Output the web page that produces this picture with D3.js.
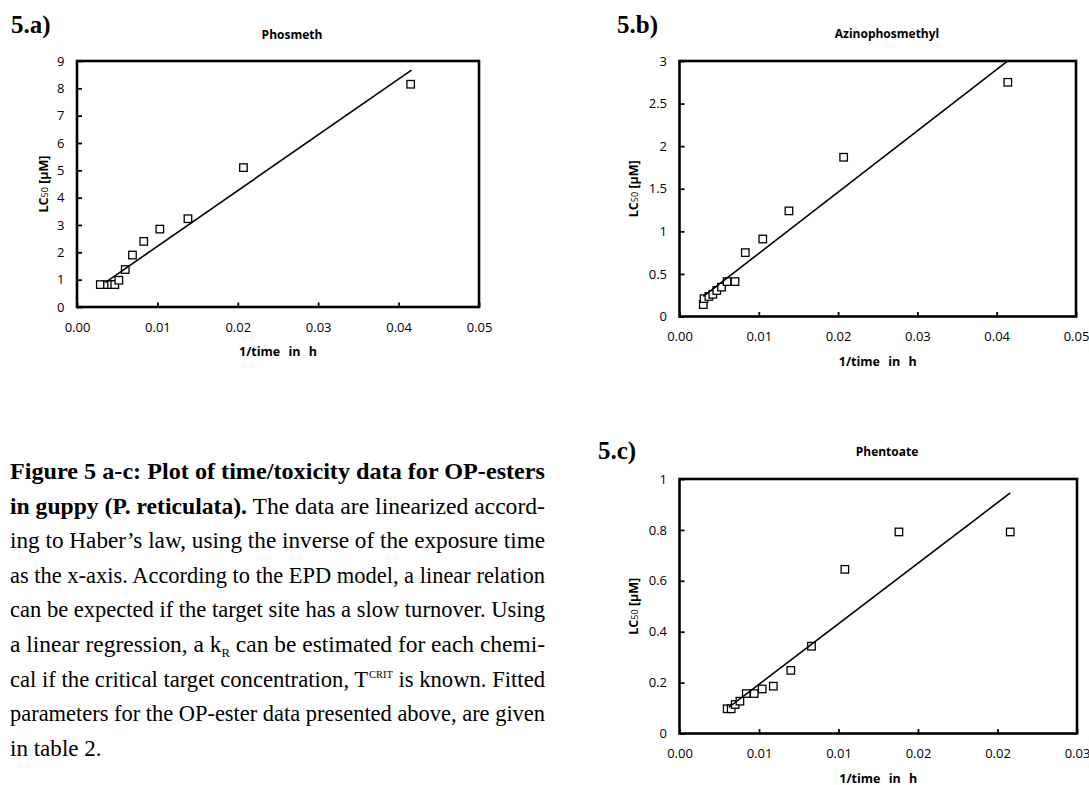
<!DOCTYPE html>
<html>
<head>
<meta charset="utf-8">
<script src="https://cdn.jsdelivr.net/npm/d3@7"></script>
<style>
  body { margin: 0; background: #fff; }
  svg text { fill: #000; }
</style>
</head>
<body>
<svg id="fig" width="1089" height="785"></svg>
<script>
// ---- 5.a) Phosmeth: 1/time (h^-1) vs LC50 (µM)
const phosmethX = [0.0029, 0.0038, 0.0043, 0.0047, 0.0052, 0.0060, 0.0069, 0.0083, 0.0103, 0.0138, 0.0207, 0.0415];
const phosmethY = [0.82, 0.82, 0.82, 0.82, 0.98, 1.37, 1.90, 2.40, 2.85, 3.23, 5.10, 8.15];
const phosmethFit = [204, 0.18];            // slope, intercept
const phosmethFitRange = [0.0035, 0.0416];
const phosmethXTicks = [0, 0.01, 0.02, 0.03, 0.04, 0.05];
const phosmethXTickLabels = ["0.00", "0.01", "0.02", "0.03", "0.04", "0.05"];
const phosmethYTicks = [0, 1, 2, 3, 4, 5, 6, 7, 8, 9];
const phosmethYTickLabels = ["0", "1", "2", "3", "4", "5", "6", "7", "8", "9"];

// ---- 5.b) Azinophosmethyl
const azinX = [0.0030, 0.0031, 0.0037, 0.0042, 0.0047, 0.0053, 0.0060, 0.0070, 0.0083, 0.0105, 0.0138, 0.0207, 0.0414];
const azinY = [0.14, 0.21, 0.235, 0.26, 0.305, 0.345, 0.41, 0.41, 0.75, 0.91, 1.24, 1.87, 2.75];
const azinFit = [72, 0.02];
const azinFitRange = [0.0030, 0.0414];
const azinXTicks = [0, 0.01, 0.02, 0.03, 0.04, 0.05];
const azinXTickLabels = ["0.00", "0.01", "0.02", "0.03", "0.04", "0.05"];
const azinYTicks = [0, 0.5, 1, 1.5, 2, 2.5, 3];
const azinYTickLabels = ["0", "0.5", "1", "1.5", "2", "2.5", "3"];

// ---- 5.c) Phentoate
const phentX = [0.0030, 0.00325, 0.0035, 0.0038, 0.0042, 0.0047, 0.0052, 0.0059, 0.0070, 0.0083, 0.0104, 0.0138, 0.0208];
const phentY = [0.097, 0.097, 0.114, 0.127, 0.157, 0.157, 0.175, 0.186, 0.248, 0.343, 0.645, 0.792, 0.792];
const phentFit = [47.6, -0.045];
const phentFitRange = [0.0031, 0.0208];
const phentXTicks = [0, 0.005, 0.01, 0.015, 0.02, 0.025];
const phentXTickLabels = ["0.00", "0.01", "0.01", "0.02", "0.02", "0.03"];
const phentYTicks = [0, 0.2, 0.4, 0.6, 0.8, 1];
const phentYTickLabels = ["0", "0.2", "0.4", "0.6", "0.8", "1"];

const svg = d3.select("#fig");
const SANS = "'Open Sans', 'DejaVu Sans', sans-serif";
const SERIF = "'Liberation Serif', 'Times New Roman', serif";

function drawPanel(p) {
  const g = svg.append("g");
  const x = d3.scaleLinear().domain(p.xDomain).range([p.left, p.right]);
  const y = d3.scaleLinear().domain(p.yDomain).range([p.bottom, p.top]);

  // panel tag, e.g. "5.a)"
  g.append("text")
    .attr("x", p.tagX).attr("y", p.tagY)
    .attr("font-family", SERIF).attr("font-weight", "bold").attr("font-size", 25)
    .text(p.tag);

  // chart title
  g.append("text")
    .attr("x", p.titleX).attr("y", p.titleY)
    .attr("text-anchor", "middle")
    .attr("font-family", SANS).attr("font-weight", "bold").attr("font-size", 12)
    .text(p.title);

  // axes with inside ticks
  const xAxis = d3.axisBottom(x)
    .tickValues(p.xTicks)
    .tickFormat((d, i) => p.xTickLabels[i])
    .tickSizeInner(-4.5).tickSizeOuter(0).tickPadding(15.5);
  const yAxis = d3.axisLeft(y)
    .tickValues(p.yTicks)
    .tickFormat((d, i) => p.yTickLabels[i])
    .tickSizeInner(-5).tickSizeOuter(0).tickPadding(12.5);

  const gx = g.append("g").attr("transform", `translate(0,${p.bottom})`).call(xAxis);
  const gy = g.append("g").attr("transform", `translate(${p.left},0)`).call(yAxis);
  [gx, gy].forEach(a => {
    a.select(".domain").remove();
    a.selectAll(".tick line").attr("stroke", "#000").attr("stroke-width", 1.8);
    a.selectAll(".tick text").attr("font-family", SANS).attr("font-size", 13).attr("fill", "#000");
  });

  // plot frame
  g.append("rect")
    .attr("x", p.left).attr("y", p.top)
    .attr("width", p.right - p.left).attr("height", p.bottom - p.top)
    .attr("fill", "none").attr("stroke", "#000").attr("stroke-width", 2.6);

  // axis titles
  g.append("text")
    .attr("x", (p.left + p.right) / 2).attr("y", p.bottom + 49)
    .attr("text-anchor", "middle")
    .attr("font-family", SANS).attr("font-weight", "bold").attr("font-size", 12.5)
    .attr("word-spacing", 5)
    .text("1/time in h");

  const yl = g.append("text")
    .attr("transform", `translate(${p.left - p.yLabelOffset},${(p.top + p.bottom) / 2}) rotate(-90)`)
    .attr("text-anchor", "middle")
    .attr("font-family", SANS).attr("font-weight", "bold").attr("font-size", 12.5);
  yl.append("tspan").text("LC");
  yl.append("tspan").attr("font-size", 9).attr("font-weight", "normal").text("50");
  yl.append("tspan").text(" [µM]");

  // data markers
  const pts = p.xs.map((v, i) => [v, p.ys[i]]);
  const s = 7.5;
  g.append("g").selectAll("rect").data(pts).join("rect")
    .attr("x", d => x(d[0]) - s / 2).attr("y", d => y(d[1]) - s / 2)
    .attr("width", s).attr("height", s)
    .attr("fill", "#fff").attr("stroke", "#000").attr("stroke-width", 1.3);

  // linear fit
  const line = d3.line().x(d => x(d[0])).y(d => y(d[1]));
  const fitPts = p.fitRange.map(v => [v, p.fit[0] * v + p.fit[1]]);
  g.append("path").attr("d", line(fitPts))
    .attr("fill", "none").attr("stroke", "#000").attr("stroke-width", 1.6);
}

drawPanel({
  tag: "5.a)", tagX: 11, tagY: 33,
  title: "Phosmeth", titleX: 292, titleY: 39,
  left: 77, right: 479, top: 61, bottom: 307, yLabelOffset: 29,
  xDomain: [0, 0.05], yDomain: [0, 9],
  xTicks: phosmethXTicks, xTickLabels: phosmethXTickLabels,
  yTicks: phosmethYTicks, yTickLabels: phosmethYTickLabels,
  xs: phosmethX, ys: phosmethY, fit: phosmethFit, fitRange: phosmethFitRange
});

drawPanel({
  tag: "5.b)", tagX: 617, tagY: 33,
  title: "Azinophosmethyl", titleX: 887, titleY: 38,
  left: 679.5, right: 1076, top: 61, bottom: 316.5, yLabelOffset: 42,
  xDomain: [0, 0.05], yDomain: [0, 3],
  xTicks: azinXTicks, xTickLabels: azinXTickLabels,
  yTicks: azinYTicks, yTickLabels: azinYTickLabels,
  xs: azinX, ys: azinY, fit: azinFit, fitRange: azinFitRange
});

drawPanel({
  tag: "5.c)", tagX: 598, tagY: 459,
  title: "Phentoate", titleX: 887, titleY: 456,
  left: 679.5, right: 1077, top: 479, bottom: 733.5, yLabelOffset: 42,
  xDomain: [0, 0.025], yDomain: [0, 1],
  xTicks: phentXTicks, xTickLabels: phentXTickLabels,
  yTicks: phentYTicks, yTickLabels: phentYTickLabels,
  xs: phentX, ys: phentY, fit: phentFit, fitRange: phentFitRange
});

// ---- caption: condensed serif, each full line justified to the column width
const captionLines = [
  [["b", "Figure 5 a-c: Plot of time/toxicity data for OP-esters"]],
  [["b", "in guppy (P. reticulata)."], ["r", " The data are linearized accord-"]],
  [["r", "ing to Haber\u2019s law, using the inverse of the exposure time"]],
  [["r", "as the x-axis. According to the EPD model, a linear relation"]],
  [["r", "can be expected if the target site has a slow turnover. Using"]],
  [["r", "a linear regression, a k"], ["sub", "R"], ["r", " can be estimated for each chemi-"]],
  [["r", "cal if the critical target concentration, T"], ["sup", "CRIT"], ["r", " is known. Fitted"]],
  [["r", "parameters for the OP-ester data presented above, are given"]],
  [["r", "in table 2."]]
];
const capLeft = 10, capWidth = 535, capTop = 479, capStep = 34.6;
const cap = svg.append("g")
  .attr("font-family", SERIF).attr("font-size", 24);
const ratios = [];
captionLines.forEach((segs, li) => {
  const t = cap.append("text")
    .attr("x", capLeft).attr("y", capTop + li * capStep);
  let shift = 0;
  segs.forEach(([kind, str]) => {
    const ts = t.append("tspan").text(str);
    if (kind === "b") ts.attr("font-weight", "bold");
    if (kind === "sub") { ts.attr("font-size", 13).attr("dy", 5); shift = 5; }
    else if (kind === "sup") { ts.attr("font-size", 11).attr("dy", -9).attr("dx", 1); shift = -9; }
    else if (shift !== 0) { ts.attr("dy", -shift); shift = 0; }
  });
  const natural = t.node().getComputedTextLength();
  if (li < captionLines.length - 1) {
    ratios.push(capWidth / natural);
    t.attr("textLength", capWidth).attr("lengthAdjust", "spacingAndGlyphs");
  } else {
    const r = d3.mean(ratios);
    t.attr("textLength", natural * r).attr("lengthAdjust", "spacingAndGlyphs");
  }
});
</script>
</body>
</html>
